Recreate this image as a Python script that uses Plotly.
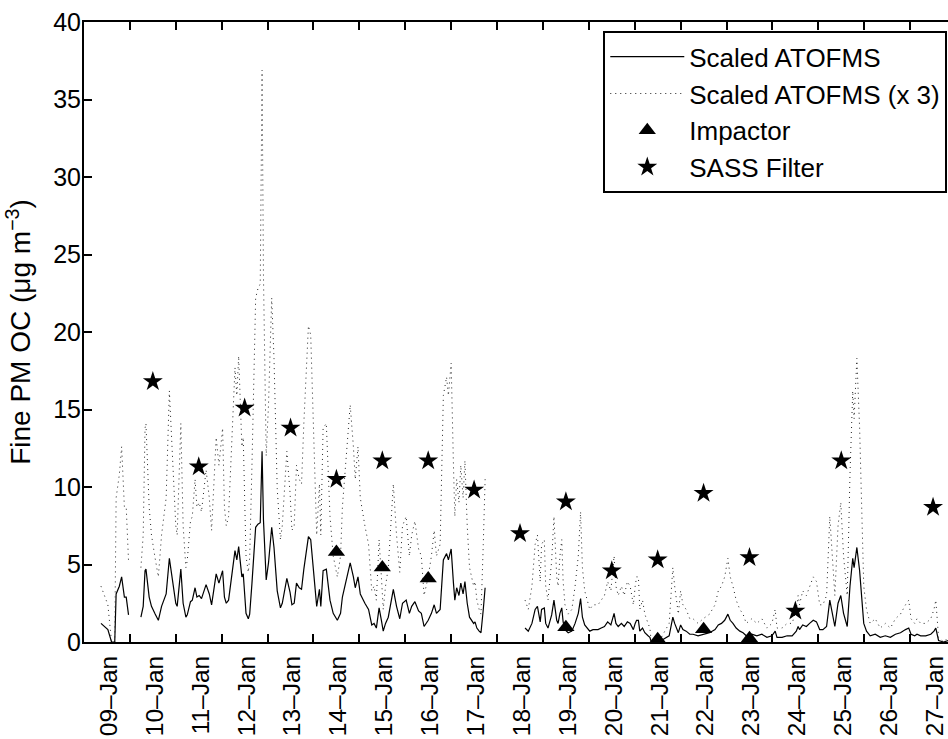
import numpy as np
import pandas as pd
import plotly.graph_objects as go

# ---- data -------------------------------------------------------------
# Time stamps are decimal days of January (8.5 = 08-Jan 12:00); None = no data
atofms_day = [
    8.37, 8.45, 8.52, 8.60, 8.67, 8.70, 8.77, 8.82, 8.88, 8.92, 8.97,
    9.10,
    9.24, 9.29, 9.33, 9.35, 9.42, 9.47, 9.55, 9.62, 9.69, 9.79, 9.86, 9.93,
    10.00, 10.03, 10.11, 10.16, 10.22, 10.25, 10.32, 10.36, 10.42, 10.46,
    10.51, 10.56, 10.66, 10.73, 10.78, 10.88, 10.94, 11.02, 11.06, 11.10,
    11.15, 11.29, 11.33, 11.37, 11.44, 11.47, 11.53, 11.58, 11.61, 11.66,
    11.74, 11.79, 11.84, 11.88, 11.91, 11.97, 12.02, 12.09, 12.14, 12.21,
    12.28, 12.32, 12.42, 12.49, 12.53, 12.58, 12.63, 12.69, 12.74, 12.79,
    12.89, 12.94, 13.00, 13.07, 13.13, 13.16, 13.21, 13.28, 13.36, 13.43,
    13.52, 13.59, 13.63, 13.72, 13.80, 13.87, 13.91, 13.97, 14.02, 14.12,
    14.20, 14.27, 14.32, 14.37, 14.43, 14.48, 14.52, 14.57, 14.63, 14.74,
    14.81, 14.88, 14.94, 15.02, 15.09, 15.14, 15.21, 15.29, 15.35, 15.41,
    15.50, 15.57, 15.63, 15.68, 15.76, 15.83, 15.90, 15.94, 16.00, 16.05,
    16.08, 16.12, 16.17, 16.21, 16.26, 16.30, 16.35, 16.40, 16.45, 16.49,
    16.52, 16.56, 16.61, 16.65, 16.70, 16.74,
    17.20,
    17.61, 17.68, 17.76, 17.83, 17.88, 17.94, 17.97, 18.03, 18.06, 18.11,
    18.19, 18.24, 18.30, 18.33, 18.37, 18.41, 18.44, 18.48, 18.55, 18.63,
    18.70, 18.77, 18.82, 18.86, 18.91, 18.96, 19.02, 19.09, 19.20, 19.27,
    19.34, 19.41, 19.45, 19.48, 19.55, 19.59, 19.64, 19.71, 19.77, 19.84,
    19.90, 19.97, 20.01, 20.04, 20.08, 20.11, 20.17, 20.22, 20.29, 20.33,
    20.36, 20.45, 20.58, 20.69, 20.75, 20.83, 20.87, 20.95, 21.00, 21.05,
    21.12, 21.20, 21.27, 21.38, 21.49, 21.63, 21.75, 21.82, 21.89, 21.96,
    22.03, 22.08, 22.14, 22.21, 22.29, 22.36, 22.43, 22.55, 22.66, 22.77,
    22.88, 22.99, 23.06, 23.10, 23.21, 23.32, 23.43, 23.52, 23.56, 23.59,
    23.66, 23.74, 23.81, 23.89, 23.96, 24.03, 24.10, 24.18, 24.25, 24.31,
    24.36, 24.43, 24.49, 24.55, 24.63, 24.69, 24.75, 24.78, 24.84, 24.90,
    24.95, 24.99, 25.05, 25.13, 25.24, 25.35, 25.46, 25.57, 25.68, 25.79,
    25.90, 25.97, 26.02, 26.10, 26.15, 26.23, 26.34, 26.45, 26.52, 26.56,
    26.62, 26.73, 26.83,
]
atofms_oc = [
    1.2, 1.0, 0.8, 0.0, 0.0, 3.1, 3.6, 4.2, 2.9, 2.9, 1.75,
    None,
    1.6, 2.3, 4.6, 4.7, 2.9, 2.3, 1.8, 1.4, 2.3, 3.1, 5.4, 3.8,
    2.5, 2.3, 4.7, 2.5, 1.6, 1.75, 2.6, 2.7, 3.5, 2.9,
    3.0, 2.8, 3.7, 3.1, 2.4, 4.4, 3.8, 4.6, 2.9, 2.5,
    2.7, 5.9, 5.3, 6.15, 4.2, 4.4, 1.85, 1.5, 1.8, 3.8,
    7.4, 7.6, 7.7, 12.3, 7.9, 4.0, 5.1, 7.4, 6.1, 3.3,
    2.2, 2.5, 4.1, 3.2, 2.4, 2.5, 3.8, 3.5, 3.4, 4.7,
    6.8, 6.6, 4.6, 2.3, 3.4, 2.3, 4.6, 4.7, 2.7, 1.85,
    1.4, 1.85, 2.9, 4.1, 5.1, 4.2, 3.5, 4.2, 3.1, 2.5,
    2.1, 1.1, 1.2, 0.9, 2.2, 1.4, 0.7, 1.2, 1.6, 3.4,
    2.3, 1.5, 2.5, 2.7, 1.85, 2.3, 2.6, 2.0, 1.85, 1.0,
    1.4, 1.85, 2.4, 1.85, 2.1, 5.3, 5.7, 5.3, 6.0, 3.8,
    2.7, 3.5, 3.0, 3.8, 3.1, 3.9, 2.5, 1.6, 1.4, 1.2,
    1.3, 0.9, 0.7, 0.6, 2.1, 3.5,
    None,
    0.9, 0.7, 1.2, 2.1, 2.3, 1.3, 2.1, 2.2, 1.2, 0.9,
    1.75, 2.7, 1.4, 1.2, 1.85, 2.2, 1.3, 0.8, 0.6, 0.7,
    1.2, 1.85, 2.8, 1.6, 1.1, 0.9, 0.7, 0.8, 0.8, 0.9,
    1.0, 1.3, 1.2, 1.1, 1.85, 1.2, 1.0, 1.2, 1.0, 1.3,
    1.2, 0.8, 1.2, 1.4, 1.4, 0.7, 0.9, 0.6, 0.4, 0.3,
    0.0, 0.1, 0.1, 0.3, 0.4, 1.6, 1.2, 0.6, 1.1, 0.8,
    0.7, 0.5, 0.5, 0.4, 0.5, 0.6, 0.8, 1.1, 1.2, 1.4,
    1.8, 1.4, 1.2, 0.9, 0.7, 0.6, 0.4, 0.5, 0.4, 0.5,
    0.3, 0.4, 0.7, 0.3, 0.3, 0.4, 0.4, 0.7, 1.0, 0.8,
    1.1, 1.0, 1.2, 1.4, 1.3, 0.8, 0.8, 1.0, 2.7, 1.85,
    1.0, 2.5, 3.0, 1.85, 1.0, 3.6, 5.4, 4.8, 6.1, 4.6,
    2.9, 1.2, 0.7, 0.4, 0.5, 0.3, 0.4, 0.3, 0.5, 0.6,
    0.8, 0.9, 0.5, 0.4, 0.5, 0.4, 0.4, 0.5, 0.7, 0.9,
    0.1, 0.0, 0.1,
]
atofms_factor = 3

impactor_day = [13.5, 14.5, 15.5, 18.5, 20.5, 21.5, 22.5]
impactor_oc = [5.8, 4.8, 4.1, 0.95, 0.17, 0.82, 0.24]

sass_day = [9.5, 10.5, 11.5, 12.5, 13.5, 14.5, 15.5, 16.5, 17.5, 18.5,
            19.5, 20.5, 21.5, 22.5, 23.5, 24.5, 26.5]
sass_oc = [16.8, 11.3, 15.1, 13.8, 10.5, 11.7, 11.7, 9.8, 7.0, 9.05,
           4.6, 5.3, 9.6, 5.45, 2.0, 11.7, 8.7]

tick_day = list(range(9, 28))
tick_text = [f"{d:02d}–Jan" for d in tick_day]

# ---- helpers ----------------------------------------------------------
BASE = pd.Timestamp("2003-01-01")


def to_time(days):
    return BASE + pd.to_timedelta(np.asarray(days, dtype=float) - 1, unit="D")


atofms_t = to_time(atofms_day)
atofms_x3 = [None if v is None else v * atofms_factor for v in atofms_oc]

FONT = "Liberation Sans, Arial, Helvetica, sans-serif"

fig = go.Figure()
fig.add_trace(go.Scatter(
    x=atofms_t, y=atofms_oc, mode="lines", name="Scaled ATOFMS",
    line=dict(color="black", width=1.2), connectgaps=False,
))
fig.add_trace(go.Scatter(
    x=atofms_t, y=atofms_x3, mode="lines", name="Scaled ATOFMS (x 3)",
    line=dict(color="#222222", width=1, dash="1px,4px"), connectgaps=False,
))
fig.add_trace(go.Scatter(
    x=to_time(impactor_day), y=impactor_oc, mode="markers", name="Impactor",
    marker=dict(symbol="triangle-up", size=15, color="black"),
    cliponaxis=False,
))
fig.add_trace(go.Scatter(
    x=to_time(sass_day), y=sass_oc, mode="markers", name="SASS Filter",
    marker=dict(symbol="star", size=15, color="black"),
    cliponaxis=False,
))

fig.update_layout(
    template="none",
    width=958, height=739,
    margin=dict(l=84, r=2, t=22, b=97, autoexpand=False),
    paper_bgcolor="white", plot_bgcolor="white",
    font=dict(family=FONT, size=25, color="black"),
    showlegend=True,
    legend=dict(
        x=0.99, y=0.985, xanchor="right", yanchor="top",
        bgcolor="white", bordercolor="black", borderwidth=2,
        font=dict(size=26), itemwidth=74, tracegroupgap=0,
    ),
)
fig.update_xaxes(
    automargin=False,
    range=[to_time([8])[0], to_time([27])[0]],
    tickvals=to_time(tick_day), ticktext=tick_text,
    tickangle=-90, ticklabelshift=-21, ticklabelstandoff=2,
    tickfont=dict(size=24.5),
    ticks="inside", ticklen=8, tickwidth=2, tickcolor="black",
    showline=True, linewidth=2, linecolor="black", mirror="ticks",
    showgrid=False, zeroline=False,
)
fig.update_yaxes(
    automargin=False,
    range=[0, 40], tickvals=list(range(0, 41, 5)),
    ticks="inside", ticklen=8, tickwidth=2, tickcolor="black",
    ticklabelstandoff=-4,
    showline=True, linewidth=2, linecolor="black", mirror="ticks",
    showgrid=False, zeroline=False,
    title=dict(text="Fine PM OC (μg m<sup>−3</sup>)", standoff=14,
               font=dict(size=28)),
)

fig.write_html("out.html")
